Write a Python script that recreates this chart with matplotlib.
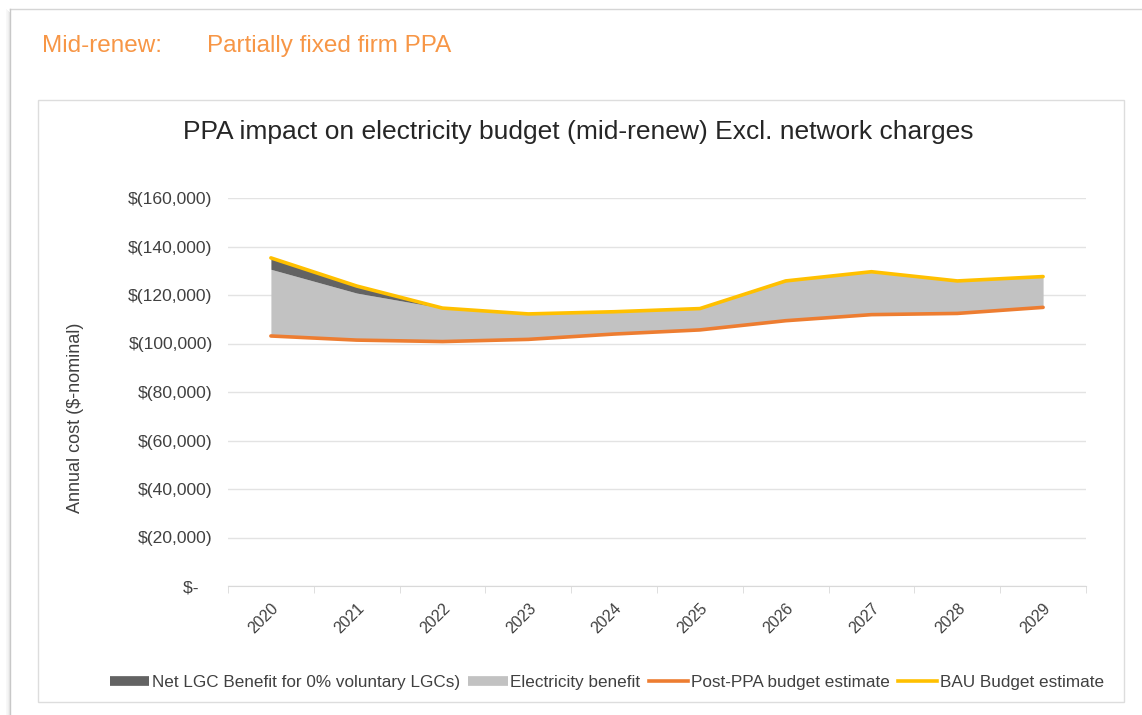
import matplotlib
matplotlib.use("Agg")
import matplotlib.pyplot as plt
import matplotlib.transforms as mtransforms
from matplotlib.patches import Rectangle
from matplotlib.lines import Line2D
from matplotlib.ticker import FuncFormatter, FixedLocator

plt.rcParams['font.family'] = ['Liberation Sans', 'DejaVu Sans']

# data (annual cost, $ nominal)
years = ['2020', '2021', '2022', '2023', '2024', '2025', '2026', '2027', '2028', '2029']
post_ppa = [103100, 101400, 100800, 101700, 103900, 105600, 109400, 111900, 112400, 114900]
elec_benefit = [27500, 19400, 13800, 10500, 9200, 8800, 16400, 17700, 13400, 12700]
lgc_benefit = [4700, 2900, 0, 0, 0, 0, 0, 0, 0, 0]
bau = [135300, 123700, 114600, 112200, 113100, 114400, 125800, 129600, 125800, 127600]

ORANGE = '#ED7D31'
YELLOW = '#FFC000'
DARK = '#636363'
LIGHT = '#C2C2C2'
TXT = '#404040'

W, H = 1142, 715
fig = plt.figure(figsize=(W / 100, H / 100), dpi=100)


def fx(px):
    return px / W


def fy(py):
    return 1 - py / H


# outer panel + soft left shadow
for i, a in enumerate([0.05, 0.08, 0.12, 0.18]):
    fig.add_artist(Rectangle((fx(6 + i), 0), fx(1), fy(9 + i), transform=fig.transFigure,
                             facecolor='#808080', alpha=a, edgecolor='none', zorder=-3))
fig.add_artist(Line2D([fx(10), 1], [fy(9), fy(9)], transform=fig.transFigure, color='#D5D5D5', lw=1, zorder=-2))
fig.add_artist(Line2D([fx(10), fx(10)], [0, fy(9)], transform=fig.transFigure, color='#C8C8C8', lw=1, zorder=-2))

# inner chart box
fig.add_artist(Rectangle((fx(38), fy(702)), fx(1124 - 38), fy(100) - fy(702), transform=fig.transFigure,
                         facecolor='white', edgecolor='#DDDDDD', lw=1, zorder=-2))

fig.text(fx(42), fy(46), 'Mid-renew:', color='#F79646', fontsize=17.5, va='center', ha='left')
fig.text(fx(207), fy(46), 'Partially fixed firm PPA', color='#F79646', fontsize=17.5, va='center', ha='left')

fig.text(fx(578), fy(132), 'PPA impact on electricity budget (mid-renew) Excl. network charges',
         color='#262626', fontsize=19, ha='center', va='center')

ax = fig.add_axes([fx(228), fy(586), fx(1086 - 228), fy(198) - fy(586)])
ax.set_zorder(2)
ax.patch.set_visible(False)
x = list(range(len(years)))
top_elec = [p + e for p, e in zip(post_ppa, elec_benefit)]
top_lgc = [t + l for t, l in zip(top_elec, lgc_benefit)]

ax.fill_between(x, post_ppa, top_elec, color=LIGHT, lw=0, zorder=2)
ax.fill_between(x, top_elec, top_lgc, color=DARK, lw=0, zorder=2)
ax.plot(x, post_ppa, color=ORANGE, lw=2.6, zorder=3, solid_capstyle='round')
ax.plot(x, bau, color=YELLOW, lw=2.6, zorder=4, solid_capstyle='round')

ax.set_xlim(-0.5, len(years) - 0.5)
ax.set_ylim(0, 160000)
ax.set_yticks(range(0, 160001, 20000))
ax.yaxis.set_major_formatter(FuncFormatter(lambda v, p: '$(' + format(int(v), ',') + ')' if v else '$-   '))
ax.grid(axis='y', color='#E3E3E3', lw=1, zorder=0)
ax.set_axisbelow(True)

ax.set_xticks(x)
ax.set_xticklabels(years, rotation=45, ha='right', rotation_mode='anchor')
shift = mtransforms.ScaledTranslation(-7 / 100, 0, fig.dpi_scale_trans)
for lbl in ax.get_xticklabels():
    lbl.set_transform(lbl.get_transform() + shift)
ax.xaxis.set_minor_locator(FixedLocator([i - 0.5 for i in range(len(years) + 1)]))
ax.tick_params(axis='x', which='major', length=0, pad=10.5, labelsize=11.5, labelcolor=TXT)
ax.tick_params(axis='x', which='minor', length=5, color='#D9D9D9')
ax.tick_params(axis='y', length=0, pad=11, labelsize=12.6, labelcolor=TXT)
for s in ['top', 'right', 'left']:
    ax.spines[s].set_visible(False)
ax.spines['bottom'].set_color('#D9D9D9')

fig.text(fx(75), fy(418), 'Annual cost ($-nominal)', rotation=90, fontsize=13, color=TXT,
         ha='center', va='center')

handles = [
    Line2D([], [], color=DARK, lw=7, solid_capstyle='butt'),
    Line2D([], [], color=LIGHT, lw=7, solid_capstyle='butt'),
    Line2D([], [], color=ORANGE, lw=2.6),
    Line2D([], [], color=YELLOW, lw=2.6),
]
labels = ['Net LGC Benefit for 0% voluntary LGCs)', 'Electricity benefit',
          'Post-PPA budget estimate', 'BAU Budget estimate']
fig.legend(handles, labels, loc='center', bbox_to_anchor=(fx(607), fy(682)), ncol=4, frameon=False,
           fontsize=12.3, handlelength=2.3, handletextpad=0.15, columnspacing=0.5, labelcolor=TXT)

fig.savefig('out.png', dpi=100, facecolor='white')
